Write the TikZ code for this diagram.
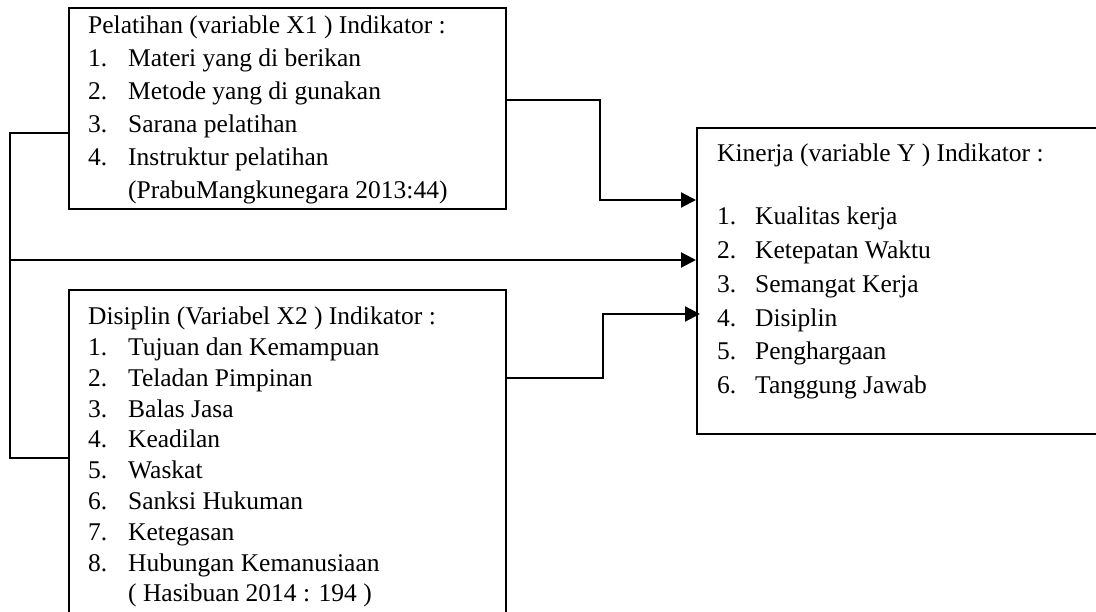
\documentclass[tikz,border=0pt]{standalone}
\usepackage{fontspec}
\setmainfont{Liberation Serif}
\usetikzlibrary{arrows.meta}
\tikzset{
	box/.style={draw, line width=1.6pt, inner sep=0pt, anchor=north west},
	txt/.style={anchor=north west, inner sep=0pt, align=left},
	link/.style={line width=2.2pt},
	thin link/.style={line width=1.6pt},
	arr/.style={link, -{Triangle[length=15pt,width=15pt]}}
}
\newcommand{\headrow}[1]{\multicolumn{2}{@{}l@{}}{#1}}
\begin{document}
\begin{tikzpicture}[x=1pt,y=-1pt]
	\useasboundingbox (0,0) rectangle (1096,612);
	% boxes
	\node[box, minimum width=437pt, minimum height=201pt] (x1) at (68,7) {};
	\node[box, minimum width=437pt, minimum height=331pt] (x2) at (68,289) {};
	\node[box, minimum width=404pt, minimum height=306pt] (y) at (696,127) {};
	% texts
	\node[txt, font=\fontsize{25.5}{33}\selectfont] (x1t) at (88,10) {%
		\begin{tabular}{@{}p{40pt}@{}l@{}}
		\headrow{Pelatihan (variable X1 ) Indikator :}\\
		1. & Materi yang di berikan\\
		2. & Metode yang di gunakan\\
		3. & Sarana pelatihan\\
		4. & Instruktur pelatihan\\
		   & (PrabuMangkunegara 2013:44)
		\end{tabular}};
	\node[txt, font=\fontsize{25.5}{30.8}\selectfont] (x2t) at (88,303) {%
		\begin{tabular}{@{}p{40pt}@{}l@{}}
		\headrow{Disiplin (Variabel X2 ) Indikator :}\\
		1. & Tujuan dan Kemampuan\\
		2. & Teladan Pimpinan\\
		3. & Balas Jasa\\
		4. & Keadilan\\
		5. & Waskat\\
		6. & Sanksi Hukuman\\
		7. & Ketegasan\\
		8. & Hubungan Kemanusiaan\\
		   & ( Hasibuan 2014 : 194 )
		\end{tabular}};
	\node[txt, font=\fontsize{25.5}{33.8}\selectfont] (yt) at (717,138) {%
		\begin{tabular}{@{}p{38pt}@{}l@{}}
		\headrow{Kinerja (variable Y ) Indikator :}\\[29pt]
		1. & Kualitas kerja\\
		2. & Ketepatan Waktu\\
		3. & Semangat Kerja\\
		4. & Disiplin\\
		5. & Penghargaan\\
		6. & Tanggung Jawab
		\end{tabular}};
	% connectors
	\draw[arr] (x1.east |- 0,100) -| (600,200) -- (y.west |- 0,200);
	\draw[arr] (x2.east |- 0,378) -| (603,314) -- ([xshift=4pt]y.west |- 0,314);
	\draw[thin link] (x1.west |- 0,133) -| (10,458) -- (x2.west |- 0,458);
	\draw[arr] (10,260) -- (y.west |- 0,260);
\end{tikzpicture}
\end{document}
